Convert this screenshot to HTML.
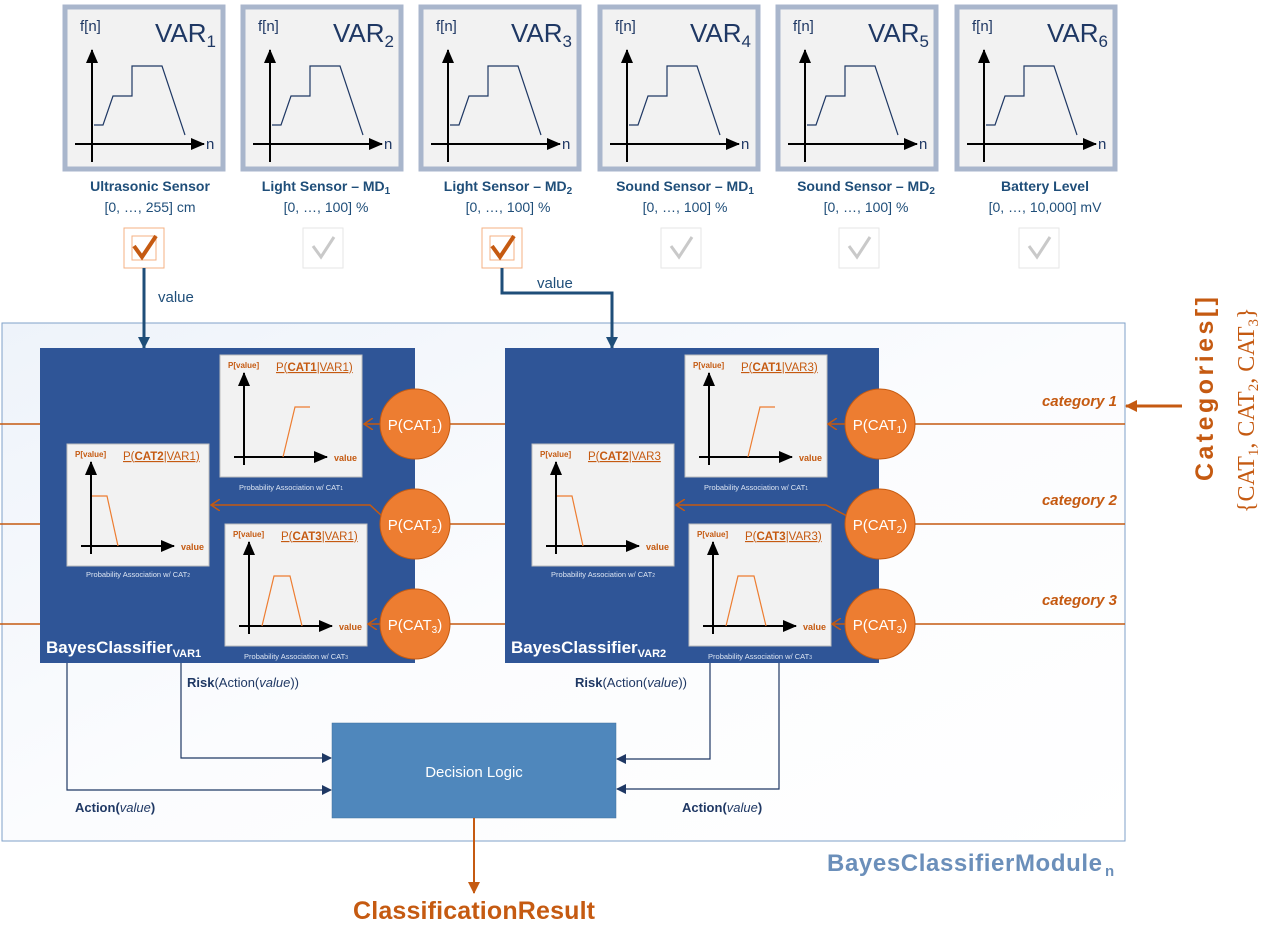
<!DOCTYPE html>
<html><head><meta charset="utf-8"><style>
body{margin:0;background:#fff;}
svg{display:block;font-family:"Liberation Sans",sans-serif;}
</style></head><body>
<svg width="1274" height="943" viewBox="0 0 1274 943" xmlns="http://www.w3.org/2000/svg">
<defs>
<linearGradient id="mg" x1="0" y1="0" x2="1" y2="1"><stop offset="0" stop-color="#eef3fa"/><stop offset="0.5" stop-color="#fbfcfe"/><stop offset="1" stop-color="#ffffff"/></linearGradient>
<marker id="ab" markerWidth="10" markerHeight="10" refX="9" refY="5" orient="auto" markerUnits="userSpaceOnUse"><path d="M0,0 L10,5 L0,10z" fill="#1f3864"/></marker>
<marker id="ak" markerWidth="14" markerHeight="12" refX="13" refY="6" orient="auto" markerUnits="userSpaceOnUse"><path d="M0,0 L14,6 L0,12z" fill="#000"/></marker>
<marker id="ao" markerWidth="12" markerHeight="12" refX="11" refY="6" orient="auto" markerUnits="userSpaceOnUse"><path d="M0,0 L12,6 L0,12z" fill="#c55a11"/></marker>
<marker id="aov" markerWidth="10" markerHeight="12" refX="9" refY="6" orient="auto" markerUnits="userSpaceOnUse"><path d="M0,0 L9,6 L0,12" fill="none" stroke="#c55a11" stroke-width="1.5"/></marker>
<marker id="abl" markerWidth="12" markerHeight="12" refX="11" refY="6" orient="auto" markerUnits="userSpaceOnUse"><path d="M0,0 L12,6 L0,12z" fill="#1f4e79"/></marker>
<g id="card">
<rect x="-79" y="7" width="158" height="162" fill="#f2f2f2" stroke="#a9b6cc" stroke-width="5"/>
<text x="-64" y="31" font-size="15" fill="#1f3864">f[n]</text>
<line x1="-52" y1="162" x2="-52" y2="50" stroke="#000" stroke-width="2" marker-end="url(#ak)"/>
<line x1="-69" y1="144" x2="60" y2="144" stroke="#000" stroke-width="2" marker-end="url(#ak)"/>
<text x="62" y="149" font-size="15" fill="#1f3864">n</text>
<polyline points="-50,125 -41,125 -31,96 -12,96 -12,66 18,66 41,135" fill="none" stroke="#1f3864" stroke-width="1.2"/>
</g>
<g id="chart">
<rect x="0" y="0" width="142" height="122" fill="#f2f2f2" stroke="#bfbfbf"/>
<text x="8" y="13" font-size="8" font-weight="bold" fill="#c55a11">P[value]</text>
<line x1="24" y1="110" x2="24" y2="18" stroke="#000" stroke-width="2" marker-end="url(#ak)"/>
<line x1="14" y1="102" x2="107" y2="102" stroke="#000" stroke-width="2" marker-end="url(#ak)"/>
<text x="114" y="106" font-size="9" font-weight="bold" fill="#c55a11">value</text>
</g>
</defs>

<!-- top cards -->
<g fill="#1f3864">
<use href="#card" x="144"/><text x="155" y="42" font-size="26" fill="#1f3864">VAR<tspan font-size="17" dy="5">1</tspan></text>
<use href="#card" x="322"/><text x="333" y="42" font-size="26" fill="#1f3864">VAR<tspan font-size="17" dy="5">2</tspan></text>
<use href="#card" x="500"/><text x="511" y="42" font-size="26" fill="#1f3864">VAR<tspan font-size="17" dy="5">3</tspan></text>
<use href="#card" x="679"/><text x="690" y="42" font-size="26" fill="#1f3864">VAR<tspan font-size="17" dy="5">4</tspan></text>
<use href="#card" x="857"/><text x="868" y="42" font-size="26" fill="#1f3864">VAR<tspan font-size="17" dy="5">5</tspan></text>
<use href="#card" x="1036"/><text x="1047" y="42" font-size="26" fill="#1f3864">VAR<tspan font-size="17" dy="5">6</tspan></text>
</g>
<g font-size="14" fill="#1f4e79" text-anchor="middle">
<text x="150" y="191" font-weight="bold">Ultrasonic Sensor</text><text x="150" y="212">[0, …, 255] cm</text>
<text x="326" y="191" font-weight="bold">Light Sensor – MD<tspan font-size="10" dy="3">1</tspan></text><text x="326" y="212">[0, …, 100] %</text>
<text x="508" y="191" font-weight="bold">Light Sensor – MD<tspan font-size="10" dy="3">2</tspan></text><text x="508" y="212">[0, …, 100] %</text>
<text x="685" y="191" font-weight="bold">Sound Sensor – MD<tspan font-size="10" dy="3">1</tspan></text><text x="685" y="212">[0, …, 100] %</text>
<text x="866" y="191" font-weight="bold">Sound Sensor – MD<tspan font-size="10" dy="3">2</tspan></text><text x="866" y="212">[0, …, 100] %</text>
<text x="1045" y="191" font-weight="bold">Battery Level</text><text x="1045" y="212">[0, …, 10,000] mV</text>
</g>
<!-- checkboxes -->
<g>
<rect x="124" y="228" width="40" height="40" fill="#fff" stroke="#f4b183"/><rect x="132" y="236" width="24" height="24" fill="none" stroke="#f4b183"/>
<path d="M134,246 L142,257 L156,236" fill="none" stroke="#c55a11" stroke-width="4"/>
<rect x="482" y="228" width="40" height="40" fill="#fff" stroke="#f4b183"/><rect x="490" y="236" width="24" height="24" fill="none" stroke="#f4b183"/>
<path d="M492,246 L500,257 L514,236" fill="none" stroke="#c55a11" stroke-width="4"/>
</g>
<g fill="#fff" stroke="#e6e6e6">
<rect x="303" y="228" width="40" height="40"/><rect x="661" y="228" width="40" height="40"/><rect x="839" y="228" width="40" height="40"/><rect x="1019" y="228" width="40" height="40"/>
</g>
<g fill="none" stroke="#c9c9c9" stroke-width="3">
<path d="M313,246 L321,257 L334,237"/><path d="M671,246 L679,257 L692,237"/><path d="M849,246 L857,257 L870,237"/><path d="M1029,246 L1037,257 L1050,237"/>
</g>

<!-- module -->
<rect x="2" y="323" width="1123" height="518" fill="url(#mg)" stroke="#7fa0c8"/>
<text x="827" y="871" font-size="24" font-weight="bold" fill="#6b8fba" textLength="275">BayesClassifierModule</text>
<text x="1105" y="876" font-size="15" font-weight="bold" fill="#6b8fba">n</text>

<!-- value arrows -->
<line x1="144" y1="268" x2="144" y2="348" stroke="#1f4e79" stroke-width="3" marker-end="url(#abl)"/>
<text x="158" y="302" font-size="15" fill="#1f4e79">value</text>
<polyline points="502,268 502,293 612,293 612,348" fill="none" stroke="#1f4e79" stroke-width="3" marker-end="url(#abl)"/>
<text x="537" y="288" font-size="15" fill="#1f4e79">value</text>

<!-- orange category lines -->
<g stroke="#c55a11" stroke-width="1.5">
<line x1="0" y1="424" x2="40" y2="424"/><line x1="0" y1="524" x2="40" y2="524"/><line x1="0" y1="624" x2="40" y2="624"/>
<line x1="415" y1="424" x2="505" y2="424"/><line x1="415" y1="524" x2="505" y2="524"/><line x1="415" y1="624" x2="505" y2="624"/>
<line x1="880" y1="424" x2="1125" y2="424"/><line x1="880" y1="524" x2="1125" y2="524"/><line x1="880" y1="624" x2="1125" y2="624"/>
</g>

<!-- blocks -->
<g>
<rect x="40" y="348" width="375" height="315" fill="#2f5597"/>
<rect x="505" y="348" width="374" height="315" fill="#2f5597"/>
</g>

<!-- charts block1 -->
<g transform="translate(220,355)"><use href="#chart"/><text x="56" y="16" font-size="11.5" fill="#c55a11" text-decoration="underline">P(<tspan font-weight="bold">CAT1</tspan>|VAR1)</text>
<polyline points="63,102 75,52 90,52" fill="none" stroke="#ed7d31" stroke-width="1.2"/>
<text x="71" y="135" font-size="7.5" fill="#dde6f3" text-anchor="middle">Probability Association w/ CAT<tspan font-size="5">1</tspan></text></g>
<g transform="translate(67,444)"><use href="#chart"/><text x="56" y="16" font-size="11.5" fill="#c55a11" text-decoration="underline">P(<tspan font-weight="bold">CAT2</tspan>|VAR1)</text>
<polyline points="25,52 40,52 51,102" fill="none" stroke="#ed7d31" stroke-width="1.2"/>
<text x="71" y="133" font-size="7.5" fill="#dde6f3" text-anchor="middle">Probability Association w/ CAT<tspan font-size="5">2</tspan></text></g>
<g transform="translate(225,524)"><use href="#chart"/><text x="56" y="16" font-size="11.5" fill="#c55a11" text-decoration="underline">P(<tspan font-weight="bold">CAT3</tspan>|VAR1)</text>
<polyline points="37,102 49,52 65,52 77,102" fill="none" stroke="#ed7d31" stroke-width="1.2"/>
<text x="71" y="135" font-size="7.5" fill="#dde6f3" text-anchor="middle">Probability Association w/ CAT<tspan font-size="5">3</tspan></text></g>
<!-- charts block2 -->
<g transform="translate(685,355)"><use href="#chart"/><text x="56" y="16" font-size="11.5" fill="#c55a11" text-decoration="underline">P(<tspan font-weight="bold">CAT1</tspan>|VAR3)</text>
<polyline points="63,102 75,52 90,52" fill="none" stroke="#ed7d31" stroke-width="1.2"/>
<text x="71" y="135" font-size="7.5" fill="#dde6f3" text-anchor="middle">Probability Association w/ CAT<tspan font-size="5">1</tspan></text></g>
<g transform="translate(532,444)"><use href="#chart"/><text x="56" y="16" font-size="11.5" fill="#c55a11" text-decoration="underline">P(<tspan font-weight="bold">CAT2</tspan>|VAR3</text>
<polyline points="25,52 40,52 51,102" fill="none" stroke="#ed7d31" stroke-width="1.2"/>
<text x="71" y="133" font-size="7.5" fill="#dde6f3" text-anchor="middle">Probability Association w/ CAT<tspan font-size="5">2</tspan></text></g>
<g transform="translate(689,524)"><use href="#chart"/><text x="56" y="16" font-size="11.5" fill="#c55a11" text-decoration="underline">P(<tspan font-weight="bold">CAT3</tspan>|VAR3)</text>
<polyline points="37,102 49,52 65,52 77,102" fill="none" stroke="#ed7d31" stroke-width="1.2"/>
<text x="71" y="135" font-size="7.5" fill="#dde6f3" text-anchor="middle">Probability Association w/ CAT<tspan font-size="5">3</tspan></text></g>

<!-- arrows circle -> chart -->
<g stroke="#c55a11" stroke-width="1.5" fill="none">
<line x1="381" y1="424" x2="364" y2="424" marker-end="url(#aov)"/>
<polyline points="382,516 370,505 211,505" marker-end="url(#aov)"/>
<line x1="381" y1="624" x2="368" y2="624" marker-end="url(#aov)"/>
<line x1="846" y1="424" x2="828" y2="424" marker-end="url(#aov)"/>
<polyline points="847,516 826,505 676,505" marker-end="url(#aov)"/>
<line x1="846" y1="624" x2="832" y2="624" marker-end="url(#aov)"/>
</g>

<!-- circles -->
<g fill="#ed7d31" stroke="#c55a11" stroke-width="1">
<circle cx="415" cy="424" r="35"/><circle cx="415" cy="524" r="35"/><circle cx="415" cy="624" r="35"/>
<circle cx="880" cy="424" r="35"/><circle cx="880" cy="524" r="35"/><circle cx="880" cy="624" r="35"/>
</g>
<g fill="#fff" font-size="15" text-anchor="middle">
<text x="415" y="430">P(CAT<tspan font-size="10" dy="3">1</tspan><tspan dy="-3">)</tspan></text>
<text x="415" y="530">P(CAT<tspan font-size="10" dy="3">2</tspan><tspan dy="-3">)</tspan></text>
<text x="415" y="630">P(CAT<tspan font-size="10" dy="3">3</tspan><tspan dy="-3">)</tspan></text>
<text x="880" y="430">P(CAT<tspan font-size="10" dy="3">1</tspan><tspan dy="-3">)</tspan></text>
<text x="880" y="530">P(CAT<tspan font-size="10" dy="3">2</tspan><tspan dy="-3">)</tspan></text>
<text x="880" y="630">P(CAT<tspan font-size="10" dy="3">3</tspan><tspan dy="-3">)</tspan></text>
</g>

<text x="46" y="653" font-size="17" font-weight="bold" fill="#fff">BayesClassifier<tspan font-size="11" dy="4">VAR1</tspan></text>
<text x="511" y="653" font-size="17" font-weight="bold" fill="#fff">BayesClassifier<tspan font-size="11" dy="4">VAR2</tspan></text>

<!-- category labels -->
<g font-size="15" font-weight="bold" font-style="italic" fill="#c55a11" text-anchor="end">
<text x="1117" y="406">category 1</text><text x="1117" y="505">category 2</text><text x="1117" y="605">category 3</text>
</g>
<line x1="1182" y1="406" x2="1126" y2="406" stroke="#c55a11" stroke-width="3" marker-end="url(#ao)"/>
<text transform="translate(1213,481) rotate(-90)" font-size="25" font-weight="bold" fill="#c55a11" textLength="184">Categories[]</text>
<text transform="translate(1254,513) rotate(-90)" font-size="24" font-family="Liberation Serif,serif" fill="#c55a11">{CAT<tspan font-size="15" dy="4">1</tspan><tspan dy="-4">, CAT</tspan><tspan font-size="15" dy="4">2</tspan><tspan dy="-4">, CAT</tspan><tspan font-size="15" dy="4">3</tspan><tspan dy="-4">}</tspan></text>

<!-- decision logic -->
<rect x="332" y="723" width="284" height="95" fill="#4f87bc" stroke="#41719c" stroke-width="0.5"/>
<text x="474" y="777" font-size="15" fill="#fff" text-anchor="middle">Decision Logic</text>
<g stroke="#1f3864" stroke-width="1.2" fill="none">
<polyline points="181,663 181,758 331,758" marker-end="url(#ab)"/>
<polyline points="67,663 67,790 331,790" marker-end="url(#ab)"/>
<polyline points="710,663 710,759 617,759" marker-end="url(#ab)"/>
<polyline points="779,663 779,789 617,789" marker-end="url(#ab)"/>
</g>
<g font-size="13" fill="#1f3864">
<text x="187" y="687"><tspan font-weight="bold">Risk</tspan>(Action(<tspan font-style="italic">value</tspan>))</text>
<text x="575" y="687"><tspan font-weight="bold">Risk</tspan>(Action(<tspan font-style="italic">value</tspan>))</text>
<text x="75" y="812" font-weight="bold">Action(<tspan font-style="italic" font-weight="normal">value</tspan>)</text>
<text x="682" y="812" font-weight="bold">Action(<tspan font-style="italic" font-weight="normal">value</tspan>)</text>
</g>
<line x1="474" y1="818" x2="474" y2="893" stroke="#c55a11" stroke-width="2" marker-end="url(#ao)"/>
<text x="474" y="919" font-size="25" font-weight="bold" fill="#c55a11" text-anchor="middle" textLength="242">ClassificationResult</text>
</svg>
</body></html>
